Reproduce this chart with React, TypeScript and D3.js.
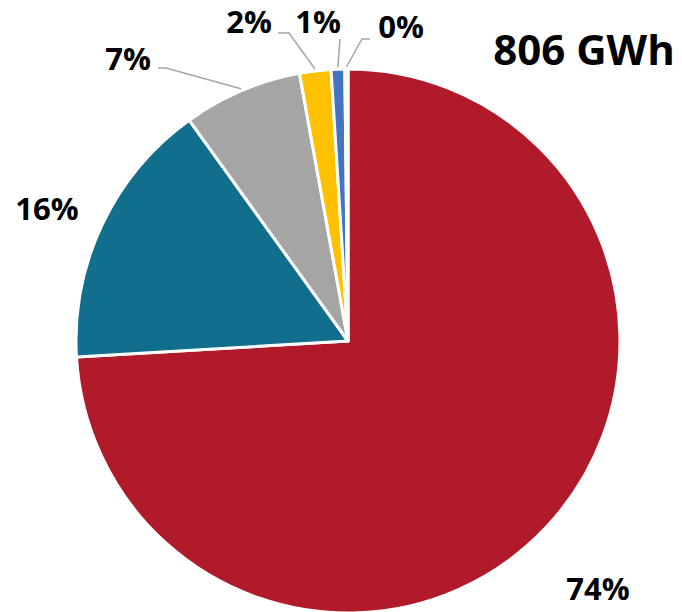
import React from "react";
import * as d3 from "d3";

const categories = ["A", "B", "C", "D", "E", "F"];
const values = [597, 129, 57, 15, 6.5, 1.5];
const labels = ["74%", "16%", "7%", "2%", "1%", "0%"];
const colors = ["#B11A2B", "#116E8C", "#A5A5A5", "#FFC000", "#4472C4", "#5B9BD5"];
const totalLabel = "806 GWh";

// label layout: [x, y baseline, leader points before reaching slice]
const labelPos: { x: number; y: number; leader: [number, number][] | null }[] = [
  { x: 598, y: 600, leader: null },
  { x: 47, y: 220, leader: null },
  { x: 128, y: 70, leader: [[158, 68], [166, 68]] },
  { x: 249, y: 33, leader: [[278, 33], [289, 33]] },
  { x: 318, y: 33, leader: [[340, 39]] },
  { x: 401, y: 38, leader: [[370, 39], [362, 39]] },
];

export default function App() {
  const W = 682, H = 612;
  const cx = 348, cy = 341, r = 272;
  const pie = d3.pie<number>().sort(null).value((d) => d);
  const arcs = pie(values);
  const arc = d3.arc<d3.PieArcDatum<number>>().innerRadius(0).outerRadius(r);
  const font = "'Open Sans', 'Liberation Sans', sans-serif";
  return (
    <svg width={W} height={H} style={{ position: "absolute", left: 0, top: 0 }}>
      <rect width={W} height={H} fill="#fff" />
      <g transform={`translate(${cx},${cy})`}>
        {arcs.map((a, i) => (
          <path key={categories[i]} d={arc(a) || ""} fill={colors[i]} stroke="#fff" strokeWidth={3} strokeLinejoin="round" />
        ))}
      </g>
      {arcs.map((a, i) => {
        const lp = labelPos[i];
        if (!lp.leader) return null;
        const mid = (a.startAngle + a.endAngle) / 2;
        const ex = cx + Math.sin(mid) * (r + 2);
        const ey = cy - Math.cos(mid) * (r + 2);
        const pts = [...lp.leader, [ex, ey]];
        return (
          <polyline key={"l" + i} points={pts.map((p) => p.join(",")).join(" ")} fill="none" stroke="#A6A6A6" strokeWidth={1.5} />
        );
      })}
      {arcs.map((a, i) => (
        <text key={"t" + i} x={labelPos[i].x} y={labelPos[i].y} textAnchor="middle" fontFamily={font} fontWeight="bold" fontSize={31} fill="#000">
          {labels[i]}
        </text>
      ))}
      <text x={584} y={65} textAnchor="middle" fontFamily={font} fontWeight="bold" fontSize={42} fill="#000">
        {totalLabel}
      </text>
    </svg>
  );
}
